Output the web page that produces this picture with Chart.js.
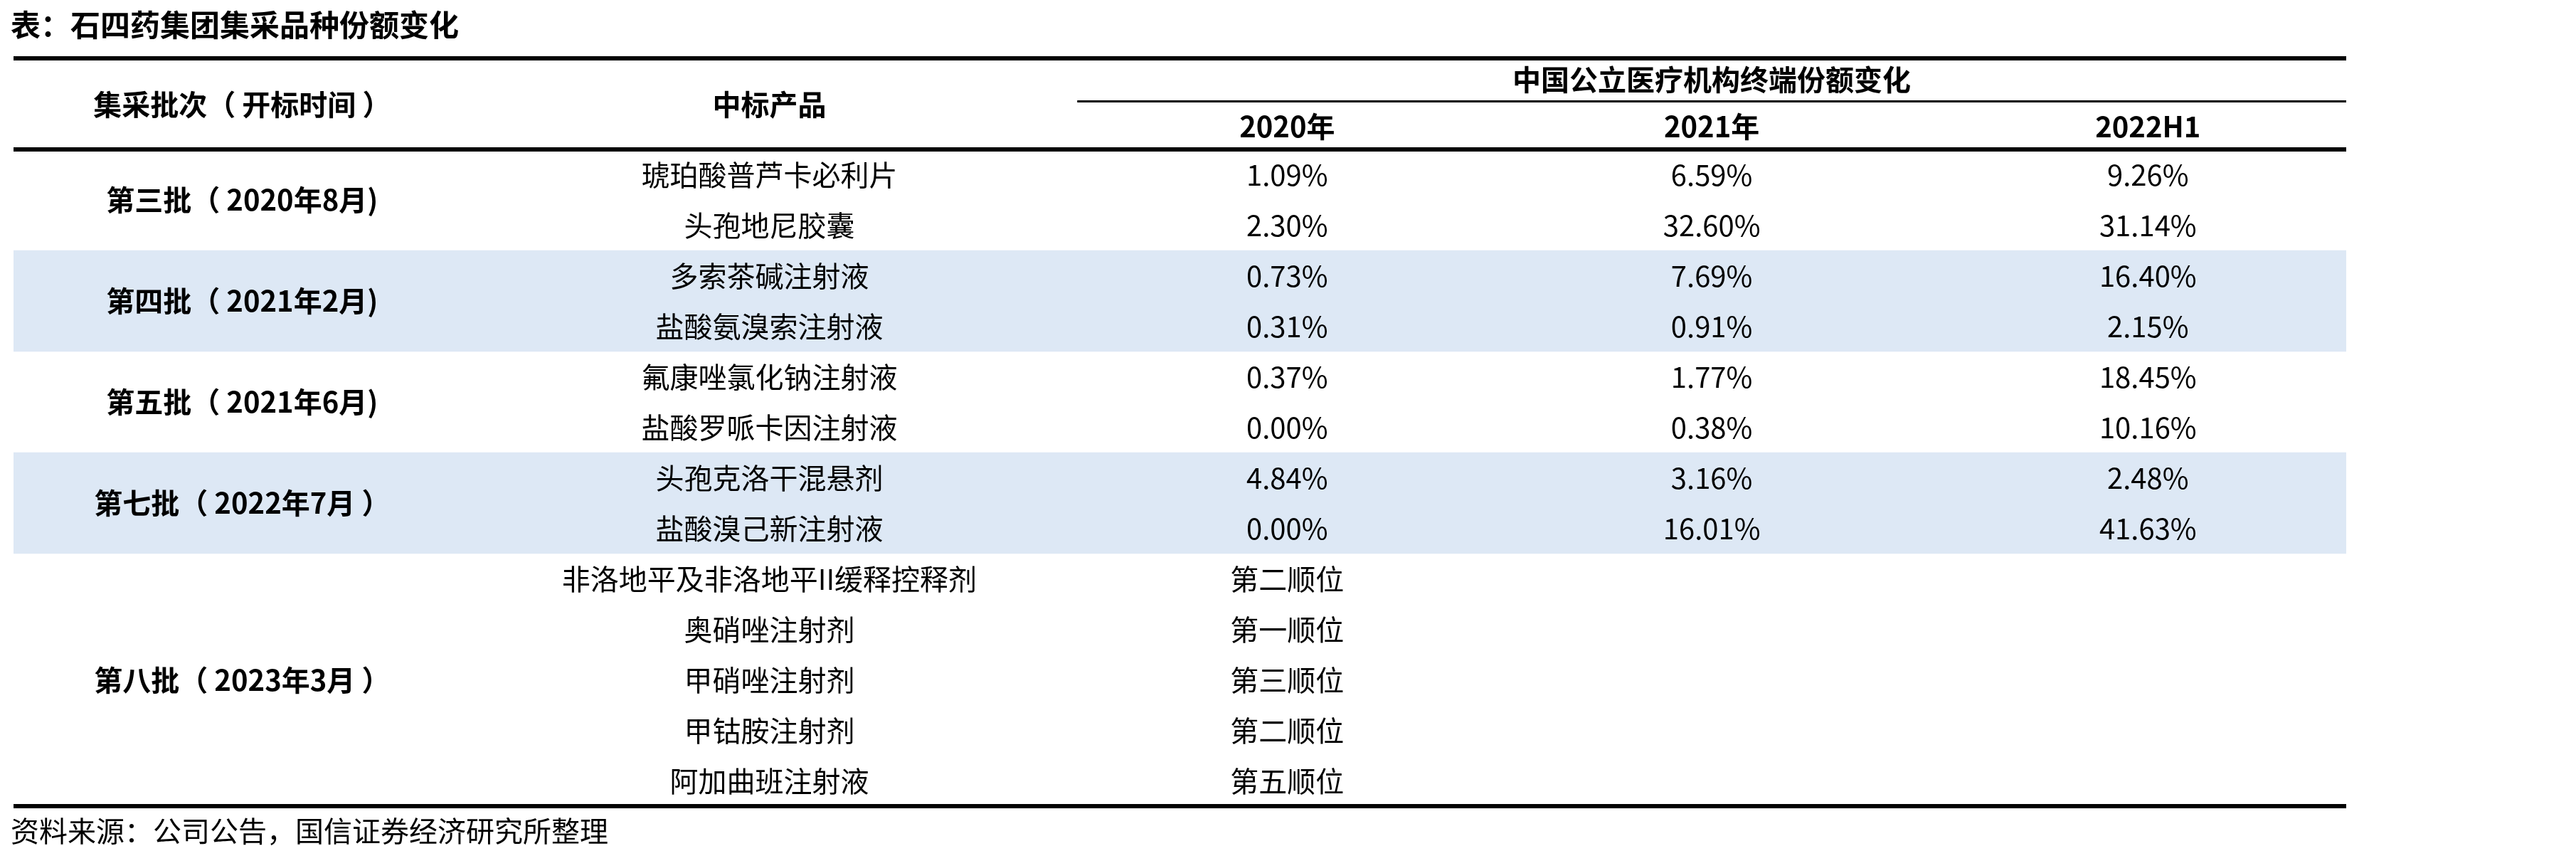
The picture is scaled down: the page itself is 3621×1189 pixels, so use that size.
<!DOCTYPE html>
<html>
<head>
<meta charset="utf-8">
<script src="https://cdn.jsdelivr.net/npm/chart.js@4"></script>
<style>
  body { margin: 0; background: #fff; }
  canvas { display: block; }
</style>
</head>
<body>
<canvas id="tbl" width="3621" height="1189"></canvas>
<script>
const title = '表：石四药集团集采品种份额变化';
const source = '资料来源：公司公告，国信证券经济研究所整理';
const headBatch = '集采批次（ 开标时间 ）';
const headProduct = '中标产品';
const headShare = '中国公立医疗机构终端份额变化';
const years = ['2020年', '2021年', '2022H1'];

const products = ['琥珀酸普芦卡必利片', '头孢地尼胶囊', '多索茶碱注射液', '盐酸氨溴索注射液',
  '氟康唑氯化钠注射液', '盐酸罗哌卡因注射液', '头孢克洛干混悬剂', '盐酸溴己新注射液',
  '非洛地平及非洛地平II缓释控释剂', '奥硝唑注射剂', '甲硝唑注射剂', '甲钴胺注射剂', '阿加曲班注射液'];
const share2020 = ['1.09%', '2.30%', '0.73%', '0.31%', '0.37%', '0.00%', '4.84%', '0.00%',
  '第二顺位', '第一顺位', '第三顺位', '第二顺位', '第五顺位'];
const share2021 = ['6.59%', '32.60%', '7.69%', '0.91%', '1.77%', '0.38%', '3.16%', '16.01%', '', '', '', '', ''];
const share2022 = ['9.26%', '31.14%', '16.40%', '2.15%', '18.45%', '10.16%', '2.48%', '41.63%', '', '', '', '', ''];

const batches = ['第三批（ 2020年8月)', '第四批（ 2021年2月)', '第五批（ 2021年6月)', '第七批（ 2022年7月 ）', '第八批（ 2023年3月 ）'];
const batchFirstRow = [0, 2, 4, 6, 8];
const batchLastRow = [1, 3, 5, 7, 12];
const shadedBatches = [1, 3];

// column centres on the x scale (0..1 across the table)
const colX = [0.098, 0.324, 0.546, 0.728, 0.915];
const shareLineStart = 0.456;

const rowLabels = products.map((_, i) => 'r' + i);
const shade = rowLabels.map((_, i) =>
  shadedBatches.some(b => i >= batchFirstRow[b] && i <= batchLastRow[b]) ? [0, 1] : null);

const FONT = '"Noto Sans CJK SC", "Noto Sans", sans-serif';

const tablePlugin = {
  id: 'tableText',
  afterDatasetsDraw(chart) {
    const { ctx, chartArea: a, scales: { x, y } } = chart;
    const left = a.left, right = a.right;
    ctx.save();
    ctx.fillStyle = '#000';
    ctx.textBaseline = 'middle';

    // title
    ctx.font = 'bold 42px ' + FONT;
    ctx.textAlign = 'left';
    ctx.fillText(title, left - 4, 35);

    // rules
    ctx.fillStyle = '#000';
    ctx.fillRect(left, 79, right - left, 6);
    ctx.fillRect(left, a.top - 3, right - left, 6);
    ctx.fillRect(left, a.bottom - 3, right - left, 6);
    ctx.fillRect(x.getPixelForValue(shareLineStart), 141, right - x.getPixelForValue(shareLineStart), 3);

    // header
    ctx.font = 'bold 40px ' + FONT;
    ctx.textAlign = 'center';
    ctx.fillText(headBatch, x.getPixelForValue(colX[0]), 147);
    ctx.fillText(headProduct, x.getPixelForValue(colX[1]), 147);
    ctx.fillText(headShare, x.getPixelForValue(colX[3]), 112);
    years.forEach((yr, i) => ctx.fillText(yr, x.getPixelForValue(colX[2 + i]), 178));

    // batch labels
    batches.forEach((b, i) => {
      const yc = (y.getPixelForValue(batchFirstRow[i]) + y.getPixelForValue(batchLastRow[i])) / 2;
      ctx.fillText(b, x.getPixelForValue(colX[0]), yc);
    });

    // body cells
    ctx.font = '40px ' + FONT;
    const cols = [products, share2020, share2021, share2022];
    cols.forEach((col, c) => col.forEach((t, r) => {
      if (t) ctx.fillText(t, x.getPixelForValue(colX[c + 1]), y.getPixelForValue(r));
    }));

    // source
    ctx.textAlign = 'left';
    ctx.fillText(source, left - 4, 1168);
    ctx.restore();
  }
};

new Chart(document.getElementById('tbl'), {
  type: 'bar',
  data: {
    labels: rowLabels,
    datasets: [{
      data: shade,
      backgroundColor: '#dde8f5',
      categoryPercentage: 1,
      barPercentage: 1,
      borderWidth: 0,
    }],
  },
  options: {
    indexAxis: 'y',
    responsive: false,
    devicePixelRatio: 1,
    animation: false,
    layout: { padding: { left: 19, right: 323, top: 210, bottom: 56 } },
    plugins: { legend: { display: false }, tooltip: { enabled: false } },
    scales: {
      x: { type: 'linear', min: 0, max: 1, display: false },
      y: { display: false },
    },
  },
  plugins: [tablePlugin],
});
</script>
</body>
</html>
